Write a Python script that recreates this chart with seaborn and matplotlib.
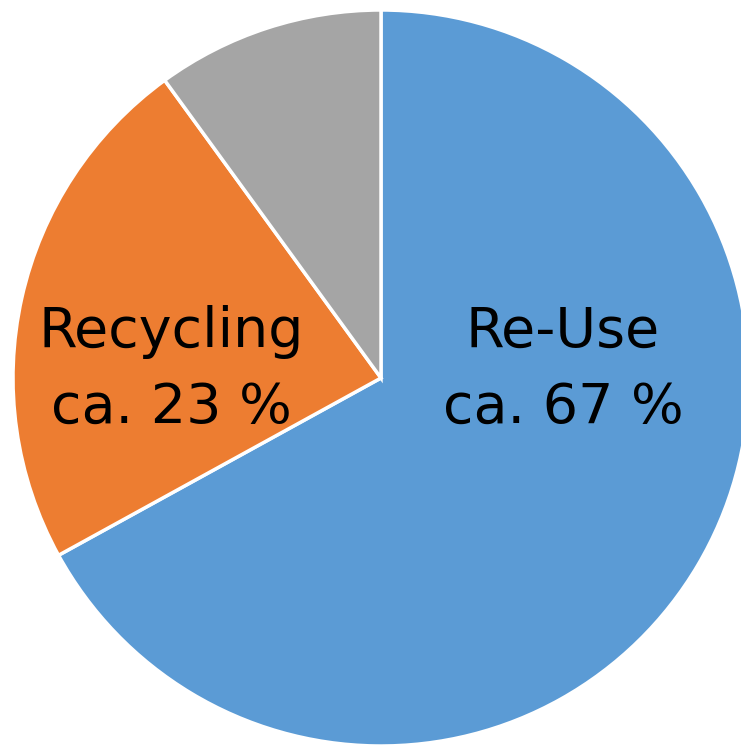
import matplotlib
matplotlib.use("Agg")
import matplotlib.pyplot as plt
import seaborn as sns

categories = ["Re-Use", "Recycling", "Other"]
shares = [67, 23, 10]
line1 = ["Re-Use", "Recycling", ""]
line2 = ["ca. 67 %", "ca. 23 %", ""]
colors = ["#5B9BD5", "#ED7D31", "#A5A5A5"]

sns.set_theme(style="white")
plt.rcParams['font.family'] = ['DejaVu Sans']

fig = plt.figure(figsize=(7.41, 7.45), dpi=100)
ax = fig.add_axes([0, 0, 1, 1])
R = 368
ax.pie(shares, colors=colors, startangle=90, counterclock=False, radius=R,
       center=(0, 0), wedgeprops=dict(edgecolor="white", linewidth=2.5))
ax.set_xlim(-381, 360)
ax.set_ylim(-367, 378)
ax.set_aspect("equal")
ax.axis("off")

label_x = [182, -210]
for i in range(2):
    ax.text(label_x[i], 31, line1[i], ha="center", va="baseline", fontsize=40, color="black")
    ax.text(label_x[i], -45, line2[i], ha="center", va="baseline", fontsize=40, color="black")

fig.savefig("out.png", dpi=100)
